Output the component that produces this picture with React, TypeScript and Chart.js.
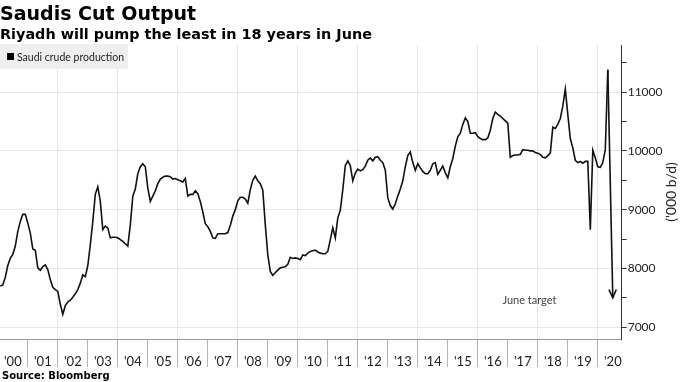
import React, { useEffect, useRef } from 'react';
import { Chart, registerables } from 'chart.js';

Chart.register(...registerables);

// ---- Data (thousand barrels per day), monthly, Jan 2000 .. Apr 2020 ----
const START_YEAR = 2000;
const seriesName = 'Saudi crude production';
const production: number[] = [
  // 2000
  7700, 7720, 7850, 8050, 8170, 8240, 8380, 8630, 8800, 8920, 8920, 8770,
  // 2001
  8600, 8330, 8310, 8010, 7970, 8030, 8060, 7980, 7810, 7680, 7640, 7610,
  // 2002
  7390, 7220, 7370, 7430, 7460, 7510, 7570, 7640, 7750, 7890, 7860, 8050,
  // 2003
  8400, 8800, 9260, 9390, 9140, 8660, 8720, 8690, 8520, 8530, 8530, 8520,
  // 2004
  8490, 8460, 8420, 8380, 8740, 9230, 9350, 9610, 9730, 9780, 9730, 9370,
  // 2005
  9140, 9230, 9320, 9440, 9520, 9550, 9570, 9570, 9560, 9520, 9530, 9510,
  // 2006
  9490, 9470, 9530, 9230, 9260, 9260, 9320, 9270, 9140, 8960, 8760, 8710,
  // 2007
  8630, 8520, 8510, 8590, 8590, 8590, 8590, 8610, 8730, 8890, 9000, 9150,
  // 2008
  9210, 9210, 9180, 9110, 9340, 9500, 9570, 9490, 9440, 9330, 8740, 8230,
  // 2009
  7950, 7880, 7930, 7970, 8010, 8020, 8030, 8070, 8190, 8170, 8180, 8170,
  // 2010
  8150, 8230, 8220, 8260, 8290, 8300, 8310, 8280, 8260, 8250, 8250, 8290,
  // 2011
  8490, 8690, 8520, 8860, 8990, 9340, 9750, 9830, 9750, 9490, 9620, 9690,
  // 2012
  9660, 9680, 9740, 9840, 9880, 9830, 9890, 9900, 9840, 9800, 9670, 9200,
  // 2013
  9070, 9010, 9100, 9230, 9350, 9490, 9730, 9920, 9980, 9800, 9670, 9780,
  // 2014
  9710, 9650, 9610, 9610, 9670, 9780, 9800, 9600, 9670, 9740, 9630, 9540,
  // 2015
  9730, 9870, 10080, 10240, 10300, 10450, 10560, 10500, 10300, 10300, 10310, 10240,
  // 2016
  10210, 10190, 10190, 10220, 10350, 10550, 10660, 10620, 10590, 10550, 10510, 10470,
  // 2017
  9890, 9920, 9930, 9930, 9940, 10020, 10010, 10010, 10000, 10000, 9970, 9960,
  // 2018
  9940, 9890, 9880, 9920, 9960, 10400, 10380, 10450, 10550, 10760, 11050, 10620,
  // 2019
  10210, 10050, 9840, 9800, 9820, 9790, 9820, 9820, 8660, 10010, 9880, 9730,
  // 2020
  9720, 9800, 10020, 11380,
];

// June 2020 target, drawn as an arrow from the last reported month
const targetLabel = 'June target';
const targetValue = 7500;
const targetMonthIndex = 245; // months after Jan 2000 (June 2020)

const yearLabels = [
  "'00", "'01", "'02", "'03", "'04", "'05", "'06", "'07", "'08", "'09", "'10",
  "'11", "'12", "'13", "'14", "'15", "'16", "'17", "'18", "'19", "'20",
];
const yAxisTitle = "('000 b/d)";
const yMin = 6800;
const yMax = 11800;
const yTickValues = [7000, 7500, 8000, 8500, 9000, 9500, 10000, 10500, 11000, 11500];
const yLabelStep = 1000;

const titleText = 'Saudis Cut Output';
const subtitleText = 'Riyadh will pump the least in 18 years in June';
const sourceText = 'Source: Bloomberg';

// month-end dates as fractional years
const monthToX = (i: number) => START_YEAR + (i + 1) / 12;
const X_MIN = 2000.0733;
const X_MAX = 2020.7967;

const GRID = '#e6e6e6';
const TEXT = '#222';

const arrowPlugin = {
  id: 'arrowAndLabels',
  afterDatasetsDraw(chart: any) {
    const { ctx, chartArea } = chart;
    const meta = chart.getDatasetMeta(1);
    const pts = meta.data;
    if (pts && pts.length >= 2) {
      const a = pts[pts.length - 2];
      const b = pts[pts.length - 1];
      const ang = Math.atan2(b.y - a.y, b.x - a.x);
      const len = 9;
      const spread = 0.42;
      ctx.save();
      ctx.strokeStyle = '#111';
      ctx.lineWidth = 1.6;
      ctx.beginPath();
      ctx.moveTo(b.x - len * Math.cos(ang - spread), b.y - len * Math.sin(ang - spread));
      ctx.lineTo(b.x, b.y);
      ctx.lineTo(b.x - len * Math.cos(ang + spread), b.y - len * Math.sin(ang + spread));
      ctx.stroke();
      ctx.restore();
    }
    const xs = chart.scales.x;
    const ys = chart.scales.y;
    ctx.save();
    ctx.font = '11px Lato';
    ctx.fillStyle = '#444';
    ctx.textAlign = 'center';
    ctx.textBaseline = 'middle';
    ctx.fillText(targetLabel, xs.getPixelForValue(2017.72), ys.getPixelForValue(7460));
    ctx.restore();
    // rotated y axis title (reads bottom-to-top)
    ctx.save();
    ctx.translate(ys.right - 9, (chartArea.top + chartArea.bottom) / 2);
    ctx.rotate(-Math.PI / 2);
    ctx.font = '14px Lato';
    ctx.fillStyle = TEXT;
    ctx.textAlign = 'center';
    ctx.textBaseline = 'middle';
    ctx.fillText(yAxisTitle, 0, 0);
    ctx.restore();
  },
};

export default function App() {
  const ref = useRef<HTMLCanvasElement>(null);

  useEffect(() => {
    document.body.style.margin = '0';
    const canvas = ref.current;
    if (!canvas) return;

    const lineData = production.map((v, i) => ({ x: monthToX(i), y: v }));
    const lastIdx = production.length - 1;
    const arrowData = [
      { x: monthToX(lastIdx), y: production[lastIdx] },
      { x: monthToX(targetMonthIndex), y: targetValue },
    ];

    const xTicks: { value: number }[] = [];
    for (let k = 0; k < yearLabels.length; k++) {
      xTicks.push({ value: START_YEAR + k + 0.5 });
      if (k + 1 < yearLabels.length) xTicks.push({ value: START_YEAR + k + 1 });
    }

    const chart = new Chart(canvas, {
      type: 'line',
      data: {
        datasets: [
          {
            label: seriesName,
            data: lineData,
            borderColor: '#111',
            borderWidth: 1.6,
            pointRadius: 0,
            tension: 0,
            fill: false,
          },
          {
            label: targetLabel,
            data: arrowData,
            borderColor: '#111',
            borderWidth: 1.6,
            pointRadius: 0,
            tension: 0,
            fill: false,
          },
        ],
      },
      options: {
        responsive: false,
        animation: false,
        devicePixelRatio: 1,
        layout: { padding: { top: 45, left: 0, right: 0, bottom: 0 } },
        plugins: {
          legend: { display: false },
          title: { display: false },
          tooltip: { enabled: false },
        },
        scales: {
          x: {
            type: 'linear',
            min: X_MIN,
            max: X_MAX,
            afterBuildTicks: (scale: any) => {
              scale.ticks = xTicks.map((t) => ({ value: t.value }));
            },
            afterFit: (scale: any) => {
              scale.height = 43;
            },
            ticks: {
              autoSkip: false,
              maxRotation: 0,
              minRotation: 0,
              padding: -13,
              color: TEXT,
              font: { family: 'Lato', size: 13 },
              callback: (value: any) => {
                const v = Number(value);
                if (Math.abs(v - Math.floor(v) - 0.5) < 1e-6) {
                  return yearLabels[Math.floor(v) - START_YEAR] ?? '';
                }
                return '';
              },
            },
            grid: {
              drawOnChartArea: true,
              drawTicks: true,
              tickLength: 28,
              lineWidth: 1,
              color: (ctx: any) => {
                const v = ctx.tick ? ctx.tick.value : 0;
                return Number.isInteger(v) && v % 2 === 0 ? GRID : 'rgba(0,0,0,0)';
              },
              tickColor: (ctx: any) => {
                const v = ctx.tick ? ctx.tick.value : 0;
                return Number.isInteger(v) ? '#b5b5b5' : 'rgba(0,0,0,0)';
              },
            },
            border: { display: true, color: '#999', width: 1 },
          },
          y: {
            position: 'right',
            min: yMin,
            max: yMax,
            afterBuildTicks: (scale: any) => {
              scale.ticks = yTickValues.map((v) => ({ value: v }));
            },
            afterFit: (scale: any) => {
              scale.width = 58.3;
            },
            ticks: {
              autoSkip: false,
              padding: 1,
              color: TEXT,
              font: { family: 'Lato', size: 12 },
              callback: (value: any) => (Number(value) % yLabelStep === 0 ? String(value) : ''),
            },
            grid: {
              drawTicks: true,
              tickLength: 5,
              color: (ctx: any) => {
                const v = ctx.tick ? ctx.tick.value : 0;
                return v % yLabelStep === 0 ? GRID : 'rgba(0,0,0,0)';
              },
              tickColor: '#333',
            },
            border: { display: true, color: '#333', width: 1 },
          },
        },
      },
      plugins: [arrowPlugin],
    } as any);

    return () => chart.destroy();
  }, []);

  return (
    <div style={{ position: 'relative', width: 680, height: 382, background: '#fff', overflow: 'hidden' }}>
      <canvas ref={ref} width={680} height={382} style={{ position: 'absolute', left: 0, top: 0, width: 680, height: 382 }} />
      <div style={{ position: 'absolute', left: 0, top: 3.8, font: 'bold 19px "DejaVu Sans"', lineHeight: '19px', color: '#000', whiteSpace: 'nowrap' }}>
        {titleText}
      </div>
      <div style={{ position: 'absolute', left: 0, top: 27.2, font: 'bold 14.4px "DejaVu Sans"', lineHeight: '14.4px', color: '#000', whiteSpace: 'nowrap' }}>
        {subtitleText}
      </div>
      <div style={{ position: 'absolute', left: 0, top: 44, width: 128, height: 25, background: '#efefef', display: 'flex', alignItems: 'center' }}>
        <span style={{ display: 'inline-block', width: 7, height: 7, background: '#000', marginLeft: 7, marginRight: 3 }} />
        <span style={{ font: '10.5px Lato', color: TEXT, whiteSpace: 'nowrap' }}>{seriesName}</span>
      </div>
      <div style={{ position: 'absolute', left: 2, top: 370.5, font: 'bold 10px "DejaVu Sans"', lineHeight: '10px', color: '#000', whiteSpace: 'nowrap' }}>
        {sourceText}
      </div>
    </div>
  );
}
